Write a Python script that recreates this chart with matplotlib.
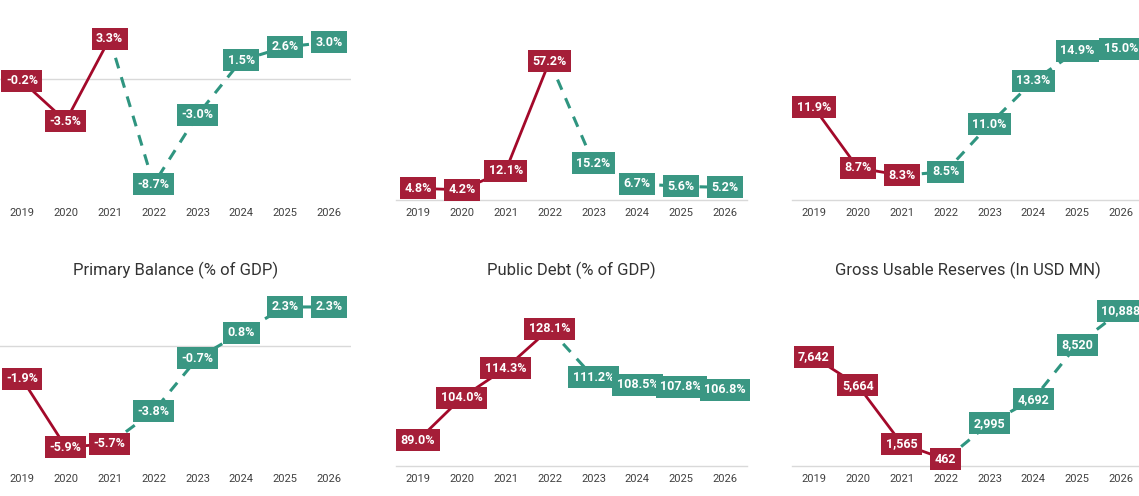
import matplotlib
matplotlib.use("Agg")
import matplotlib.pyplot as plt

plt.rcParams['font.family'] = ['Roboto', 'DejaVu Sans']

years = ['2019', '2020', '2021', '2022', '2023', '2024', '2025', '2026']

gdp_growth = [-0.2, -3.5, 3.3, -8.7, -3.0, 1.5, 2.6, 3.0]
inflation = [4.8, 4.2, 12.1, 57.2, 15.2, 6.7, 5.6, 5.2]
revenue = [11.9, 8.7, 8.3, 8.5, 11.0, 13.3, 14.9, 15.0]
primary_balance = [-1.9, -5.9, -5.7, -3.8, -0.7, 0.8, 2.3, 2.3]
public_debt = [89.0, 104.0, 114.3, 128.1, 111.2, 108.5, 107.8, 106.8]
reserves = [7642, 5664, 1565, 462, 2995, 4692, 8520, 10888]

# title, values, last actual index, ylim, label format, zero line
panels = [
    ('', gdp_growth, 2, (-10, 4), '{:.1f}%', True),
    ('', inflation, 3, (0, 70), '{:.1f}%', False),
    ('', revenue, 2, (7, 16), '{:.1f}%', False),
    ('Primary Balance (% of GDP)', primary_balance, 2, (-7, 3), '{:.1f}%', True),
    ('Public Debt (% of GDP)', public_debt, 3, (80, 140), '{:.1f}%', False),
    ('Gross Usable Reserves (In USD MN)', reserves, 3, (0, 12000), '{:,.0f}', False),
]

RED_BOX = '#A51E38'
RED_LINE = '#A3092A'
TEAL_BOX = '#3A9783'
TEAL_LINE = '#2F9580'
GRID = '#d9d9d9'

W, H = 1139, 496
fig = plt.figure(figsize=(W / 100, H / 100), dpi=100)

lefts = [0, 396, 792]
rows = [(30, 200), (295, 466)]

for i, (title, vals, last, ylim, fmt, zero) in enumerate(panels):
    r, c = divmod(i, 3)
    top, bot = rows[r]
    ax = fig.add_axes([lefts[c] / W, 1 - bot / H, 351 / W, (bot - top) / H])
    x = list(range(len(years)))

    ax.plot(x[:last + 1], vals[:last + 1], color=RED_LINE, lw=2, zorder=2)
    ax.plot(x[last:], vals[last:], color=TEAL_LINE, lw=2.2,
            dashes=(3.6, 3.0), zorder=2)

    for xi, v in zip(x, vals):
        col = RED_BOX if xi <= last else TEAL_BOX
        ax.text(xi, v, fmt.format(v), ha='center', va='center', color='white',
                fontsize=9, fontweight='bold', zorder=3,
                bbox=dict(boxstyle='square,pad=0.36', fc=col, ec='none'))

    ax.set_xlim(-0.5, len(years) - 0.5)
    ax.set_ylim(*ylim)
    ax.set_xticks(x)
    ax.set_xticklabels(years)
    ax.set_yticks([])
    ax.tick_params(axis='x', length=0, pad=6, labelsize=8, labelcolor='#404040')
    for s in ['top', 'left', 'right']:
        ax.spines[s].set_visible(False)
    if zero:
        ax.spines['bottom'].set_visible(False)
        ax.axhline(0, color=GRID, lw=1, zorder=1)
    else:
        ax.spines['bottom'].set_color(GRID)
        ax.spines['bottom'].set_linewidth(1)
    ax.patch.set_alpha(0)
    if title:
        ax.set_title(title, fontsize=12, color='#333333', pad=14)

fig.savefig('out.png', dpi=100)
